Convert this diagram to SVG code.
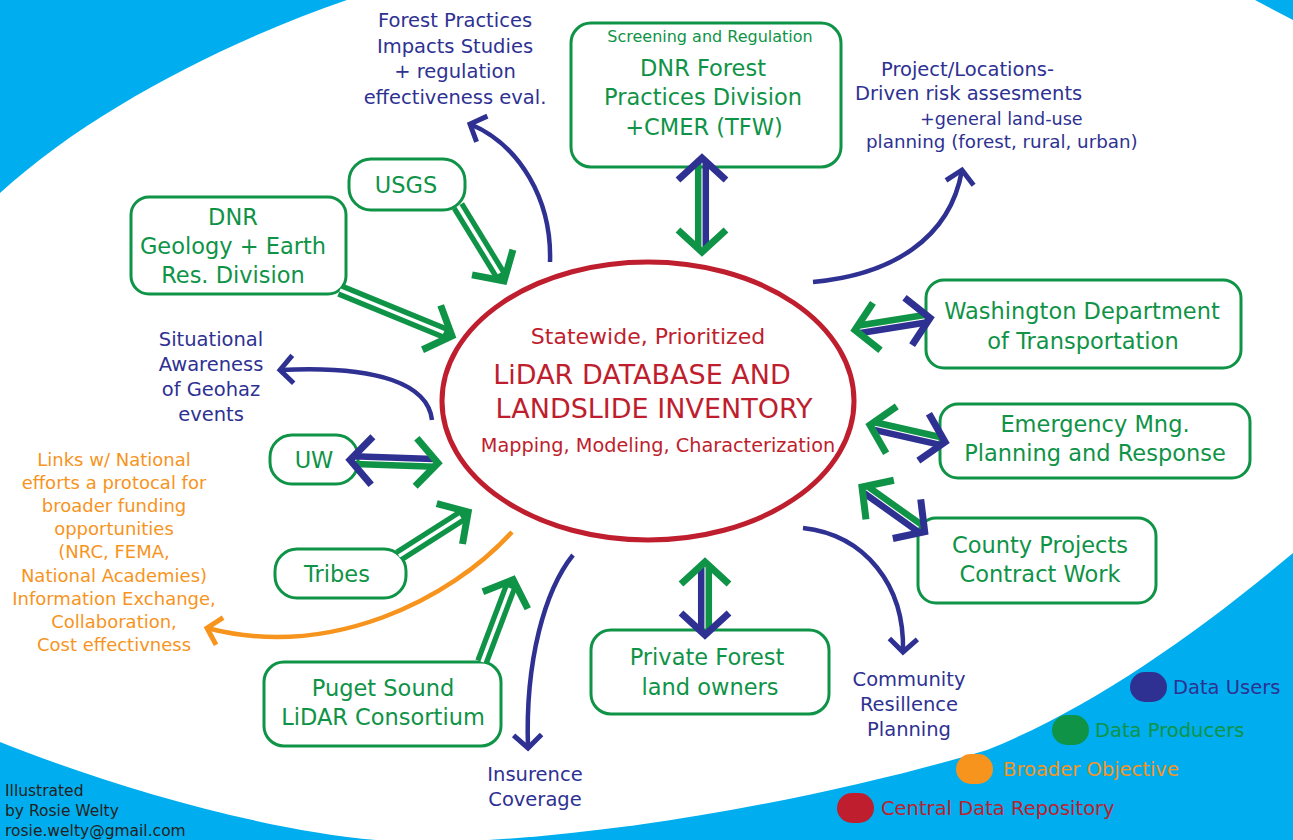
<svg xmlns="http://www.w3.org/2000/svg" width="1293" height="840" viewBox="0 0 1293 840">
<style>
text{font-family:"DejaVu Sans","Verdana",sans-serif}
.box{fill:#fff;stroke:#0F9347;stroke-width:3}
.nt{fill:#0F9347;font-size:22.5px;text-anchor:middle}
.st{fill:#0F9347;font-size:16px;text-anchor:middle}
.ut{fill:#2E3192;font-size:19.5px;text-anchor:middle}
.us{fill:#2E3192;text-anchor:start}
.ot{fill:#F7941D;font-size:18px;text-anchor:middle}
.ct{fill:#BE1E2D;text-anchor:middle}
.lt{font-size:19.5px}
.cr{fill:#231F20;font-size:15.5px}
.dg{stroke:#0F9347;stroke-width:14;fill:none}
.dw{stroke:#fff;stroke-width:3.5;fill:none}
.lg{stroke:#0F9347;stroke-width:6.5;fill:none}
.lb{stroke:#2E3192;stroke-width:6.5;fill:none}
.cg{stroke:#0F9347;stroke-width:7;fill:none}
.cb{stroke:#2E3192;stroke-width:7;fill:none}
.cu{stroke:#2E3192;stroke-width:4.5;fill:none;marker-end:url(#mb)}
.co{stroke:#F7941D;stroke-width:4.5;fill:none;marker-end:url(#mo)}
</style>
<defs>
<marker id="mb" markerUnits="userSpaceOnUse" viewBox="-20 -20 25 40" refX="0" refY="0" markerWidth="25" markerHeight="40" orient="auto" overflow="visible"><path d="M -13,-14 L 0,0 L -13,14" fill="none" stroke="#2E3192" stroke-width="5"/></marker>
<marker id="mo" markerUnits="userSpaceOnUse" viewBox="-20 -20 25 40" refX="0" refY="0" markerWidth="25" markerHeight="40" orient="auto" overflow="visible"><path d="M -13,-14 L 0,0 L -13,14" fill="none" stroke="#F7941D" stroke-width="5"/></marker>
</defs>
<g id="background">
<rect x="0" y="0" width="1293" height="840" fill="#00AEEF"/>
<path d="M 0,193 C 90,110 230,40 347,0 L 1255,0 L 1293,20 L 1293,553 C 1193,637 1087,710 987,750 C 837,795 600,842 420,842 C 300,842 120,790 0,742 Z" fill="#fff"/>
</g>
<g id="center">
<ellipse cx="648" cy="401" rx="206" ry="139" fill="#fff" stroke="#BE1E2D" stroke-width="5"/>
<text class="ct" x="648" y="344" font-size="22">Statewide, Prioritized</text>
<text class="ct" x="642" y="384" font-size="27">LiDAR DATABASE AND</text>
<text class="ct" x="654" y="418" font-size="27">LANDSLIDE INVENTORY</text>
<text class="ct" x="658" y="452" font-size="19.3">Mapping, Modeling, Characterization</text>
</g>
<g id="n-dnrfp"><rect class="box" x="571" y="23" width="270" height="144" rx="20"/>
<text class="st" x="710" y="42">Screening and Regulation</text>
<text class="nt" x="703" y="76">DNR Forest</text><text class="nt" x="703" y="105">Practices Division</text><text class="nt" x="704" y="135">+CMER (TFW)</text></g>
<g id="n-usgs"><rect class="box" x="349" y="159" width="116" height="51" rx="22"/><text class="nt" x="406" y="193">USGS</text></g>
<g id="n-dnrgeo"><rect class="box" x="131" y="197" width="215" height="97" rx="18"/>
<text class="nt" x="233" y="225">DNR</text><text class="nt" x="233" y="254">Geology + Earth</text><text class="nt" x="233" y="283">Res. Division</text></g>
<g id="n-wsdot"><rect class="box" x="926" y="280" width="315" height="88" rx="18"/>
<text class="nt" x="1082" y="319">Washington Department</text><text class="nt" x="1083" y="349">of Transportation</text></g>
<g id="n-emg"><rect class="box" x="940" y="404" width="310" height="74" rx="18"/>
<text class="nt" x="1095" y="432">Emergency Mng.</text><text class="nt" x="1095" y="461">Planning and Response</text></g>
<g id="n-county"><rect class="box" x="918" y="518" width="238" height="85" rx="18"/>
<text class="nt" x="1040" y="553">County Projects</text><text class="nt" x="1040" y="582">Contract Work</text></g>
<g id="n-private"><rect class="box" x="591" y="630" width="238" height="84" rx="20"/>
<text class="nt" x="707" y="665">Private Forest</text><text class="nt" x="710" y="695">land owners</text></g>
<g id="n-puget"><rect class="box" x="264" y="662" width="237" height="84" rx="20"/>
<text class="nt" x="383" y="696">Puget Sound</text><text class="nt" x="383" y="725">LiDAR Consortium</text></g>
<g id="n-tribes"><rect class="box" x="275" y="549" width="131" height="49" rx="22"/><text class="nt" x="337" y="582">Tribes</text></g>
<g id="n-uw"><rect class="box" x="270" y="435" width="88" height="49" rx="22"/><text class="nt" x="314" y="468">UW</text></g>
<g id="users">
<text class="ut" x="455" y="27">Forest Practices</text><text class="ut" x="455" y="53">Impacts Studies</text><text class="ut" x="455" y="78">+ regulation</text><text class="ut" x="455" y="104">effectiveness eval.</text>
<text class="us" x="881" y="76" style="font-size:19.5px">Project/Locations-</text>
<text class="us" x="855" y="100" style="font-size:19.5px">Driven risk assesments</text>
<text class="us" x="920" y="125" style="font-size:17.6px">+general land-use</text>
<text class="us" x="866" y="148" style="font-size:18.3px">planning (forest, rural, urban)</text>
<text class="ut" x="211" y="346">Situational</text><text class="ut" x="211" y="371">Awareness</text><text class="ut" x="211" y="396">of Geohaz</text><text class="ut" x="211" y="421">events</text>
<text class="ut" x="909" y="686">Community</text><text class="ut" x="909" y="711">Resillence</text><text class="ut" x="909" y="736">Planning</text>
<text class="ut" x="535" y="781">Insurence</text><text class="ut" x="535" y="806">Coverage</text>
</g>
<g id="broader">
<text class="ot" x="114" y="466">Links w/ National</text>
<text class="ot" x="114" y="489">efforts a protocal for</text>
<text class="ot" x="114" y="512">broader funding</text>
<text class="ot" x="114" y="535">opportunities</text>
<text class="ot" x="114" y="558">(NRC, FEMA,</text>
<text class="ot" x="114" y="582">National Academies)</text>
<text class="ot" x="114" y="605">Information Exchange,</text>
<text class="ot" x="114" y="628">Collaboration,</text>
<text class="ot" x="114" y="651">Cost effectivness</text>
</g>
<g id="connectors">
<g transform="translate(458,206) rotate(58.5)"><path class="dg" d="M0,0 H85"/><path class="dw" d="M0,0 H79"/><path class="cg" d="M66,-24 L88,0 L66,24"/></g>
<g transform="translate(340,290) rotate(22.3)"><path class="dg" d="M0,0 H118"/><path class="dw" d="M0,0 H112"/><path class="cg" d="M99,-24 L121,0 L99,24"/></g>
<g transform="translate(399,556) rotate(-32.5)"><path class="dg" d="M0,0 H79"/><path class="dw" d="M0,0 H73"/><path class="cg" d="M60,-24 L82,0 L60,24"/></g>
<g transform="translate(482,662) rotate(-69.3)"><path class="dg" d="M0,0 H85"/><path class="dw" d="M0,0 H79"/><path class="cg" d="M66,-24 L88,0 L66,24"/></g>
<g transform="translate(702,252) rotate(-90)"><path class="lg" d="M3,-3.8 H89"/><path class="lb" d="M5,3.8 H91"/><path class="cg" d="M22,-24 L0,0 L22,24"/><path class="cb" d="M72,-24 L94,0 L72,24"/></g>
<g transform="translate(855,330) rotate(-9.1)"><path class="lg" d="M3,-3.8 H71"/><path class="lb" d="M5,3.8 H73"/><path class="cg" d="M22,-24 L0,0 L22,24"/><path class="cb" d="M54,-24 L76,0 L54,24"/></g>
<g transform="translate(870,425) rotate(12.8)"><path class="lg" d="M3,-3.8 H72"/><path class="lb" d="M5,3.8 H74"/><path class="cg" d="M22,-24 L0,0 L22,24"/><path class="cb" d="M55,-24 L77,0 L55,24"/></g>
<g transform="translate(862,487) rotate(35.5)"><path class="lg" d="M3,-3.8 H72"/><path class="lb" d="M5,3.8 H74"/><path class="cg" d="M22,-24 L0,0 L22,24"/><path class="cb" d="M55,-24 L77,0 L55,24"/></g>
<g transform="translate(438,463) rotate(182)"><path class="lg" d="M3,-3.8 H83"/><path class="lb" d="M5,3.8 H85"/><path class="cg" d="M22,-24 L0,0 L22,24"/><path class="cb" d="M66,-24 L88,0 L66,24"/></g>
<g transform="translate(705,562) rotate(90)"><path class="lg" d="M3,-3.8 H68"/><path class="lb" d="M5,3.8 H70"/><path class="cg" d="M22,-24 L0,0 L22,24"/><path class="cb" d="M51,-24 L73,0 L51,24"/></g>
<path class="cu" d="M 550,262 C 552,200 520,145 470,124"/>
<path class="cu" d="M 813,282 C 890,275 950,240 962,170"/>
<path class="cu" d="M 432,420 C 428,385 380,365 280,370"/>
<path class="cu" d="M 573,555 C 545,590 525,660 528,748"/>
<path class="cu" d="M 803,528 C 865,535 905,585 903,652"/>
<path class="co" d="M 512,532 C 450,600 330,660 207,628"/>
</g>
<g id="legend">
<rect x="1130" y="672" width="37" height="30" rx="15" fill="#2E3192"/><text class="lt" x="1173" y="694" fill="#2E3192">Data Users</text>
<rect x="1052" y="715" width="37" height="30" rx="15" fill="#0F9347"/><text class="lt" x="1095" y="737" fill="#0F9347">Data Producers</text>
<rect x="956" y="754" width="37" height="30" rx="15" fill="#F7941D"/><text class="lt" x="1003" y="776" fill="#F7941D">Broader Objective</text>
<rect x="837" y="793" width="37" height="30" rx="15" fill="#BE1E2D"/><text class="lt" x="881" y="815" fill="#BE1E2D">Central Data Repository</text>
</g>
<g id="credit">
<text class="cr" x="5" y="796">Illustrated</text>
<text class="cr" x="5" y="816">by Rosie Welty</text>
<text class="cr" x="5" y="836">rosie.welty@gmail.com</text>
</g>
</svg>
